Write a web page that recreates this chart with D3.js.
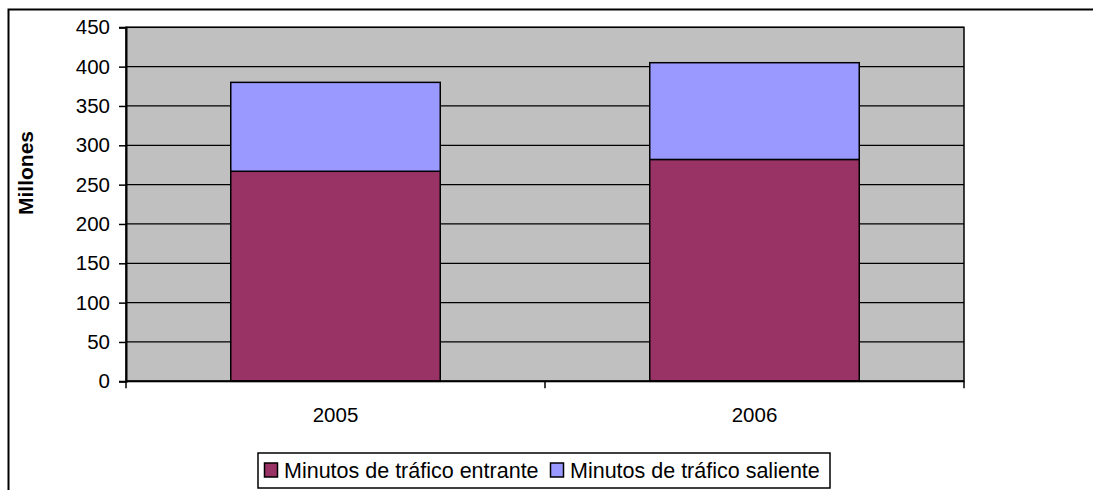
<!DOCTYPE html>
<html>
<head>
<meta charset="utf-8">
<script src="https://cdn.jsdelivr.net/npm/d3@7"></script>
<style>
  body { margin: 0; background: #fff; }
  text { font-family: "Liberation Sans", Arial, sans-serif; }
</style>
</head>
<body>
<script>
// Data (millions of minutes)
var years = ["2005", "2006"]
var entrante = [267, 282]
var saliente = [113, 123]
var seriesNames = ["Minutos de tráfico entrante", "Minutos de tráfico saliente"]
var seriesColors = ["#993366", "#9999FF"]
var yTicks = [0, 50, 100, 150, 200, 250, 300, 350, 400, 450]

var W = 1093, H = 490
var plot = {left: 126, right: 964, top: 27.3, bottom: 381.3}

var svg = d3.select("body").append("svg")
    .attr("width", W)
    .attr("height", H)

// outer chart frame (cut off at right and bottom)
svg.append("path")
    .attr("d", "M8.5," + H + "V9.5H" + W)
    .attr("fill", "none")
    .attr("stroke", "#000")
    .attr("stroke-width", 2)

var x = d3.scaleBand().domain(years).range([plot.left, plot.right])
    .paddingInner(0.5).paddingOuter(0.25)
var y = d3.scaleLinear().domain([0, 450]).range([plot.bottom, plot.top])

// plot background
svg.append("rect")
    .attr("x", plot.left).attr("y", plot.top)
    .attr("width", plot.right - plot.left)
    .attr("height", plot.bottom - plot.top)
    .attr("fill", "#C0C0C0")

// gridlines
svg.append("g").selectAll("line")
    .data(yTicks.slice(1))
    .join("line")
    .attr("x1", plot.left).attr("x2", plot.right)
    .attr("y1", d => y(d)).attr("y2", d => y(d))
    .attr("stroke", "#000").attr("stroke-width", 1.2)

// stacked bars
var table = years.map((yr, i) => ({year: yr, entrante: entrante[i], saliente: saliente[i]}))
var stack = d3.stack().keys(["entrante", "saliente"])(table)

svg.append("g").selectAll("g")
    .data(stack)
    .join("g")
    .attr("fill", (d, i) => seriesColors[i])
    .selectAll("rect")
    .data(d => d)
    .join("rect")
    .attr("x", d => x(d.data.year))
    .attr("y", d => y(d[1]))
    .attr("width", x.bandwidth())
    .attr("height", d => y(d[0]) - y(d[1]))
    .attr("stroke", "#000")
    .attr("stroke-width", 1.5)

// plot border
svg.append("rect")
    .attr("x", plot.left).attr("y", plot.top)
    .attr("width", plot.right - plot.left)
    .attr("height", plot.bottom - plot.top)
    .attr("fill", "none")
    .attr("stroke", "#000").attr("stroke-width", 1.5)

// Y axis
var yAxis = d3.axisLeft(y).tickValues(yTicks).tickSize(7).tickPadding(9)
svg.append("g")
    .attr("transform", "translate(" + plot.left + ",0)")
    .call(yAxis)
    .call(g => g.select(".domain").attr("stroke-width", 2))
    .call(g => g.selectAll(".tick line").attr("stroke-width", 1.5))
    .call(g => g.selectAll("text")
        .attr("font-family", "Liberation Sans, Arial, sans-serif")
        .attr("font-size", 20.5).attr("fill", "#000"))

// X axis: ticks at band boundaries
var xBounds = [plot.left, (plot.left + plot.right) / 2, plot.right]
svg.append("line")
    .attr("x1", plot.left).attr("x2", plot.right)
    .attr("y1", plot.bottom).attr("y2", plot.bottom)
    .attr("stroke", "#000").attr("stroke-width", 2)
svg.append("g").selectAll("line")
    .data(xBounds)
    .join("line")
    .attr("x1", d => d).attr("x2", d => d)
    .attr("y1", plot.bottom).attr("y2", plot.bottom + 7)
    .attr("stroke", "#000").attr("stroke-width", 1.5)
svg.append("g").selectAll("text")
    .data(years)
    .join("text")
    .attr("x", d => x(d) + x.bandwidth() / 2)
    .attr("y", 422)
    .attr("text-anchor", "middle")
    .attr("font-size", 20.5)
    .text(d => d)

// Y axis title
svg.append("text")
    .attr("transform", "translate(33,173) rotate(-90)")
    .attr("text-anchor", "middle")
    .attr("font-size", 21)
    .attr("font-weight", "bold")
    .text("Millones")

// legend
var legend = svg.append("g")
legend.append("rect")
    .attr("x", 258).attr("y", 453)
    .attr("width", 572).attr("height", 35)
    .attr("fill", "#fff")
    .attr("stroke", "#000").attr("stroke-width", 1.5)
var legendX = [264, 550]
var item = legend.selectAll("g.item")
    .data(seriesNames)
    .join("g")
    .attr("class", "item")
    .attr("transform", (d, i) => "translate(" + legendX[i] + ",0)")
item.append("rect")
    .attr("x", 0.5).attr("y", 463)
    .attr("width", 13).attr("height", 14)
    .attr("fill", (d, i) => seriesColors[i])
    .attr("stroke", "#000").attr("stroke-width", 1.5)
item.append("text")
    .attr("x", 20).attr("y", 478)
    .attr("font-size", 21.5)
    .text(d => d)
</script>
</body>
</html>
